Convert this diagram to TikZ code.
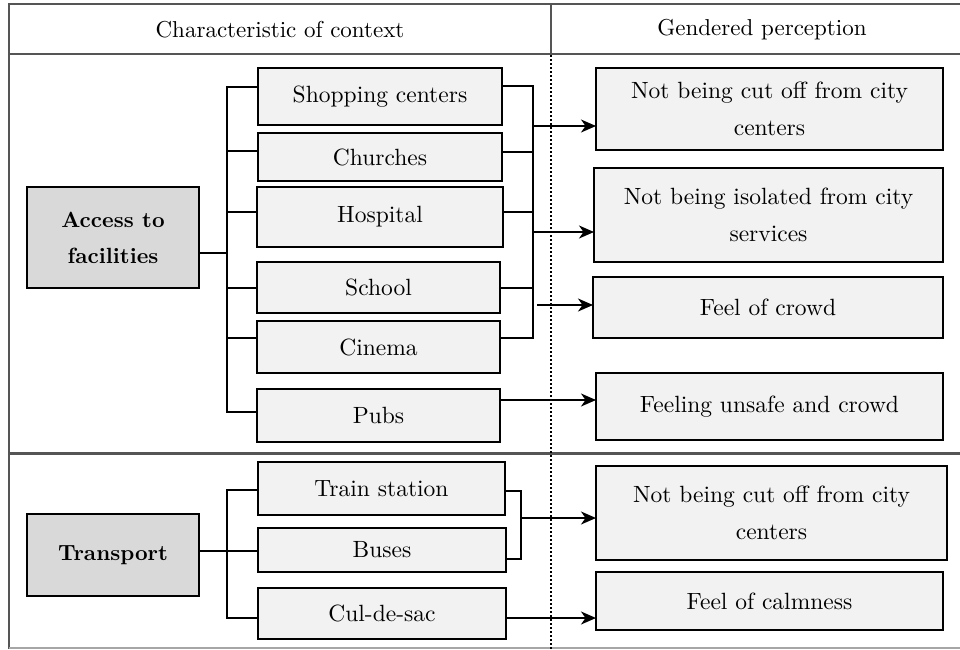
\documentclass[tikz,border=0pt]{standalone}
\usepackage{fontspec}
\setmainfont{lmroman10-regular.otf}[BoldFont=lmroman10-bold.otf]
\usetikzlibrary{arrows.meta,calc}
\definecolor{rulegray}{HTML}{555555}
\definecolor{lightrule}{HTML}{A6A6A6}
\definecolor{itemfill}{HTML}{F2F2F2}
\definecolor{topicfill}{HTML}{D9D9D9}
\begin{document}
\begin{tikzpicture}[x=1pt,y=-1pt,
  every node/.style={inner sep=0pt,outer sep=0pt},
  txt/.style={font=\fontsize{23}{37}\selectfont},
  item/.style={draw=black,line width=1.9pt,fill=itemfill,align=center,
    font=\fontsize{23.5}{37}\selectfont},
  topic/.style={draw=black,line width=1.9pt,fill=topicfill,align=center,
    font=\fontsize{22}{36}\selectfont\bfseries},
  link/.style={line width=1.5pt,draw=black,line join=miter},
  arr/.style={link,-{Stealth[length=15pt,width=13pt,inset=4.5pt]}},
  tablerule/.style={draw=rulegray,line width=2.2pt},
  divider/.style={draw=black,line width=1.9pt,dash pattern=on 2pt off 2pt},
]
\useasboundingbox (0,0) rectangle (960,649);

% ---- table frame ----
\draw[tablerule] (8,4) -- (960,4);
\draw[tablerule] (8,54) -- (960,54);
\draw[tablerule] (551,4) -- (551,54);
\draw[tablerule] (9,3) -- (9,649);
\draw[draw=rulegray,line width=2.8pt] (9,453.5) -- (960,453.5);
\draw[draw=lightrule,line width=1.2pt] (9,648) -- (960,648);
\coordinate (dtop) at (551,55);
\coordinate (dbot) at (551,649);
\draw[divider] (dtop) -- (dbot);

% ---- column headings ----
\node[txt] (hleft) at (280,30) {Characteristic of context};
\node[txt] (hright) at (762,30) {Gendered perception};

% ---- access to facilities ----
\node[topic,minimum width=172pt,minimum height=101pt] (acc) at (113,237.5) {Access to\\facilities};
\node[item,minimum width=244pt,minimum height=57pt] (shop) at (380,96.5) {Shopping centers};
\node[item,minimum width=244pt,minimum height=48pt] (church) at (380,157) {Churches};
\node[item,minimum width=246pt,minimum height=60pt] (hosp) at (380,217) {Hospital};
\node[item,minimum width=243pt,minimum height=51pt] (school) at (378.5,287.5) {School};
\node[item,minimum width=243pt,minimum height=52pt] (cinema) at (378.5,347) {Cinema};
\node[item,minimum width=243pt,minimum height=53pt] (pubs) at (378.5,415.5) {Pubs};

\node[item,minimum width=347pt,minimum height=82pt] (p1) at (769.5,109) {Not being cut off from city\\centers};
\node[item,minimum width=349pt,minimum height=94pt] (p2) at (768.5,215) {Not being isolated from city\\services};
\node[item,minimum width=350pt,minimum height=61pt] (p3) at (768,307.5) {Feel of crowd};
\node[item,minimum width=347pt,minimum height=67pt] (p4) at (769.5,406.5) {Feeling unsafe and crowd};

% left bracket
\coordinate (aL1) at (227,87);
\coordinate (aL2) at (227,151);
\coordinate (aL3) at (227,212);
\coordinate (aLm) at (227,253);
\coordinate (aL4) at (227,288);
\coordinate (aL5) at (227,338);
\coordinate (aL6) at (227,412);
\draw[link] (shop.west |- aL1) -- (aL1) -- (aL6) -- (pubs.west |- aL6);
\draw[link] (aL2) -- (church.west |- aL2);
\draw[link] (aL3) -- (hosp.west |- aL3);
\draw[link] (aL4) -- (school.west |- aL4);
\draw[link] (aL5) -- (cinema.west |- aL5);
\draw[link] (acc.east |- aLm) -- (aLm);

% right bracket
\coordinate (aR1) at (533,86);
\coordinate (aR2) at (533,152);
\coordinate (aR3) at (533,212);
\coordinate (aR4) at (533,288);
\coordinate (aR5) at (533,338);
\draw[link] (shop.east |- aR1) -- (aR1) -- (aR5) -- (cinema.east |- aR5);
\draw[link] (church.east |- aR2) -- (aR2);
\draw[link] (hosp.east |- aR3) -- (aR3);
\draw[link] (school.east |- aR4) -- (aR4);

\coordinate (aRa) at (533,126);
\coordinate (aRb) at (533,232);
\coordinate (aRc) at (537,305);
\coordinate (pOut) at (0,400);
\draw[arr] (aRa) -- (p1.west |- aRa);
\draw[arr] (aRb) -- (p2.west |- aRb);
\draw[arr] (aRc) -- (p3.west |- aRc);
\draw[arr] (pubs.east |- pOut) -- (p4.west |- pOut);

% ---- transport ----
\node[topic,minimum width=172pt,minimum height=82pt] (trans) at (113,555) {Transport};
\node[item,minimum width=247pt,minimum height=53pt] (train) at (381.5,488.5) {Train station};
\node[item,minimum width=248pt,minimum height=44pt] (buses) at (382,550) {Buses};
\node[item,minimum width=248pt,minimum height=51pt] (cul) at (382,613.5) {Cul-de-sac};

\node[item,minimum width=351pt,minimum height=94pt] (p5) at (771.5,513) {Not being cut off from city\\centers};
\node[item,minimum width=347pt,minimum height=58pt] (p6) at (769.5,601) {Feel of calmness};

\coordinate (tL1) at (227,490);
\coordinate (tLm) at (227,551);
\coordinate (tL3) at (227,618);
\draw[link] (train.west |- tL1) -- (tL1) -- (tL3) -- (cul.west |- tL3);
\draw[link] (trans.east |- tLm) -- (buses.west |- tLm);

\coordinate (tR1) at (521,491);
\coordinate (tR2) at (521,559);
\draw[link] (train.east |- tR1) -- (tR1) -- (tR2) -- (buses.east |- tR2);
\coordinate (tRa) at (521,518);
\coordinate (cOut) at (0,618);
\draw[arr] (tRa) -- (p5.west |- tRa);
\draw[arr] (cul.east |- cOut) -- (p6.west |- cOut);
\end{tikzpicture}
\end{document}
